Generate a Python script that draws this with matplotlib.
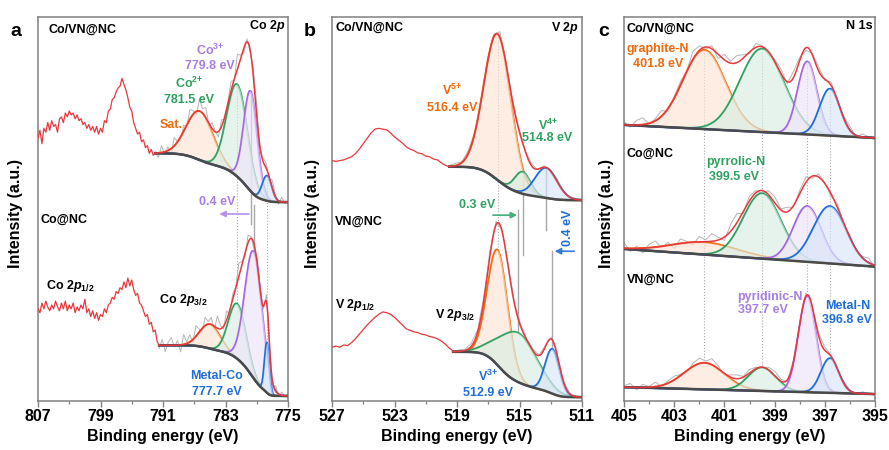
import math
import numpy as np
import matplotlib
matplotlib.use("Agg")
import matplotlib.pyplot as plt
import matplotlib.colors as mcolors
from matplotlib.ticker import FixedLocator

plt.rcParams['font.family'] = ['Liberation Sans', 'DejaVu Sans']
plt.rcParams['font.weight'] = 'bold'
plt.rcParams['mathtext.fontset'] = 'custom'
plt.rcParams['mathtext.rm'] = 'Liberation Sans:bold'
plt.rcParams['mathtext.it'] = 'Liberation Sans:italic:bold'
plt.rcParams['mathtext.bf'] = 'Liberation Sans:bold'
plt.rcParams['mathtext.default'] = 'rm'

RED = '#e8383d'
ORANGE = '#f06a0e'
GREEN = '#2ea160'
PURPLE = '#a368e0'
BLUE = '#1f6ed8'
BGLINE = '#4a4a4a'
RAW = '#b5b5b5'
GUIDE = '#a8a8a8'
SPINE = '#808080'

# ---------------- panel a : Co 2p ----------------
co_ticks = [807, 799, 791, 783, 775]
co_minor = [803, 795, 787, 779]
# raw (unfitted) part, 807 -> 792 eV, Co/VN@NC
co_left_vnco = [68.5, 70.5, 67.0, 71.0, 70.0, 72.5, 70.5, 73.0, 71.5, 72.0,
                70.0, 73.5, 74.0, 72.5, 75.0, 74.0, 75.5, 74.5, 75.0, 73.5,
                74.5, 73.0, 73.5, 72.0, 72.5, 71.0, 72.0, 70.5, 71.5, 70.0,
                71.5, 69.5, 71.0, 70.0, 73.0, 72.5, 75.5, 76.0, 78.5, 79.0,
                80.5, 81.5, 82.0, 84.0, 82.5, 81.0, 79.0, 76.5, 75.5, 72.5,
                71.0, 69.5, 70.0, 67.5, 68.0, 66.0, 66.5, 64.5, 65.5, 64.0,
                64.5]
# raw part, 807 -> 791.5 eV, Co@NC
co_left_conc = [24.0, 23.0, 25.5, 24.0, 26.0, 24.5, 23.5, 25.0, 24.0, 26.0,
                24.5, 23.5, 25.5, 24.0, 26.0, 23.5, 25.0, 24.0, 25.5, 23.0,
                24.5, 23.5, 25.0, 24.0, 26.5, 23.0, 24.0, 22.0, 23.5, 21.5,
                23.0, 21.0, 22.5, 22.0, 24.0, 23.0, 25.0, 25.5, 27.0, 26.5,
                28.5, 28.0, 29.5, 29.0, 31.0, 29.5, 32.0, 30.0, 31.5, 29.0,
                27.5, 28.0, 25.5, 25.0, 23.5, 22.0, 22.5, 20.0, 20.5, 18.0,
                18.5, 15.5, 14.5]
co_centers_vnco = [786.3, 781.5, 779.8, 777.7]
co_heights_vnco = [12.7, 24.0, 26.0, 6.5]
co_sigmas_vnco = [1.7, 1.3, 0.85, 0.6]
co_bg_vnco = (51.8, 64.5)
co_res_vnco = [0.5, -1.2, 1.8, -0.6, 1.0, -1.5, 2.2, 0.3, -1.0, 1.6, -0.4,
               2.5, 1.0, -0.8, 3.0, 1.2, 2.6, -0.5, 1.5, 0.2, -1.4, 1.8,
               -0.9, 0.6, 2.4, -0.3, 4.0, 1.1, -1.2, 0.8, -0.6, 1.9, 2.8,
               -1.0, 0.7, 1.4, -0.8, 2.0, 0.5, -0.9, 1.2, -0.4, 0.3]
co_centers_conc = [785.0, 781.5, 779.4, 777.7]
co_heights_conc = [6.3, 14.3, 33.0, 13.0]
co_sigmas_conc = [1.3, 1.1, 1.1, 0.3]
co_bg_conc = (1.3, 14.5)
co_res_conc = [-0.8, 1.5, -1.6, 0.9, 2.0, -0.5, 1.2, -1.8, 2.6, 0.4, 1.9,
               -0.7, 2.8, 1.0, -1.2, 2.2, 0.6, 1.8, -0.9, 3.2, 0.8, -0.6,
               2.4, -1.1, 1.4, 0.3, 3.6, 1.0, -0.8, 2.0, 0.4, -1.3, 1.6,
               0.6, -0.7, 1.8, 0.2, -1.0, 1.4, -0.5, 0.9, -0.3, 0.5]

# ---------------- panel b : V 2p ----------------
v_ticks = [527, 523, 519, 515, 511]
v_minor = [525, 521, 517, 513]
v_left_vnco = [62.6, 62.4, 62.6, 62.8, 63.2, 63.6, 64.4, 65.6, 67.0, 68.4,
               69.8, 70.8, 71.0, 70.8, 70.6, 69.8, 68.8, 68.0, 67.2, 66.2,
               65.6, 65.2, 64.6, 64.4, 63.8, 63.6, 63.0, 62.8, 62.0, 61.4,
               61.0]
v_left_vn = [14.0, 14.3, 14.0, 14.6, 14.4, 15.2, 16.2, 17.4, 18.6, 19.8,
             20.8, 21.8, 22.6, 23.2, 23.0, 22.6, 21.8, 20.8, 19.8, 18.8,
             18.4, 18.0, 17.8, 17.4, 17.2, 16.8, 16.6, 16.2, 15.6, 14.8,
             13.8, 13.0]
v_centers_vnco = [516.4, 514.8, 513.3]
v_heights_vnco = [38.0, 5.7, 7.8]
v_sigmas_vnco = [0.86, 0.5, 0.7]
v_bg_vnco = (52.3, 61.0)
v_res_vnco = [0.3, 0.6, 0.2, 0.8, 0.5, 0.9, 1.2, 0.8, 1.5, 0.9, 0.4,
              0.6, 0.2, 0.5, -0.2, 0.4, 0.3, 0.6, 0.2, 0.1, 0.3, 0.2]
v_centers_vn = [516.4, 515.1, 512.9]
v_heights_vn = [30.0, 12.8, 11.6]
v_sigmas_vn = [0.64, 1.2, 0.45]
v_bg_vn = (1.0, 12.8)
v_res_vn = [0.2, 0.4, 0.3, 0.8, 0.6, 1.0, 1.4, 0.9, 0.5, 0.7, 0.3,
            0.6, 0.2, 0.4, 0.1, 0.3, 0.5, 0.2, 0.1, 0.2, 0.1, 0.1]

# ---------------- panel c : N 1s ----------------
n_ticks = [405, 403, 401, 399, 397, 395]
n_minor = [404, 402, 400, 398, 396]
n_centers = [401.8, 399.5, 397.7, 396.8]
n_heights_vnco = [20.6, 21.7, 19.0, 12.2]
n_sigmas_vnco = [0.85, 0.88, 0.38, 0.4]
n_bg_vnco = (68.5, 71.9)
n_res_vnco = [0.8, -0.5, 1.2, 1.8, -0.3, 0.6, 1.5, -0.8, 0.4, 1.0, 0.2,
              2.0, 1.2, -0.6, 0.8, -1.2, 1.4, 0.5, 1.8, 0.9, -0.4, 1.0,
              0.3, -0.9, 0.6, 1.2, -0.5, 1.6, 0.8, -0.7, 0.4, 1.1, -0.3,
              0.9, -0.6, 0.5, 1.0, -0.4, 0.8, 0.2, -0.5]
n_heights_conc = [3.2, 17.0, 14.5, 14.9]
n_sigmas_conc = [1.3, 0.75, 0.55, 0.65]
n_bg_conc = (35.0, 39.6)
n_res_conc = [1.5, -0.8, 0.6, -1.2, 0.9, 1.6, -0.4, 0.8, -1.0, 1.2, 0.3,
              -0.6, 1.4, 0.5, 2.0, 0.8, -0.9, 1.8, 2.4, -0.5, 1.2, 0.6,
              -0.8, 1.0, 1.6, 0.3, 1.2, -0.4, 0.9, 1.4, -0.6, 0.8, 0.2,
              -0.7, 1.0, -0.3, 0.6, -0.5, 0.4, 1.2, -0.8]
n_heights_vn = [6.9, 6.1, 25.0, 9.0]
n_sigmas_vn = [0.8, 0.55, 0.35, 0.35]
n_bg_vn = (1.8, 3.6)
n_res_vn = [0.4, 1.0, -0.6, 0.8, 0.2, 1.2, -0.3, 0.6, 1.0, 0.3, -0.4,
            0.8, 1.4, 0.5, 1.6, 0.8, -0.5, 0.6, 1.0, 0.2, 0.9, 0.4, -0.3,
            0.7, 1.2, 0.5, -0.4, 0.6, 0.3, 0.8, -0.2, 0.5, 0.9, 0.2, -0.4,
            0.6, 0.2, -0.3, 0.5, 0.1, -0.2]


def gauss(e, c, h, s):
    return h * np.exp(-0.5 * ((e - c) / s) ** 2)


def background(spec, e):
    """Shirley-type step (or straight line) between the two read levels."""
    e = np.asarray(e, dtype=float)
    lo, hi = spec['bg']
    e_hi, e_lo = spec['range']
    if spec.get('linear'):
        return lo + (hi - lo) * (e - e_lo) / (e_hi - e_lo)
    erf = np.vectorize(math.erf)
    area = np.zeros_like(e)
    total = 0.0
    for c, h, s in zip(spec['centers'], spec['heights'], spec['sigmas']):
        area += h * s * (1 + erf((e - c) / (s * math.sqrt(2))))
        total += 2 * h * s
    return lo + (hi - lo) * area / total


def peak_top(spec, i):
    c = spec['centers'][i]
    return float(background(spec, [c])[0]) + spec['heights'][i]


def tint(color, amount=0.82):
    r, g, b = mcolors.to_rgb(color)
    return (r + (1 - r) * amount, g + (1 - g) * amount, b + (1 - b) * amount)


def draw_fit(ax, spec):
    e_hi, e_lo = spec['range']
    e = np.linspace(e_lo, e_hi, 600)
    bg = background(spec, e)

    er = np.linspace(e_hi, e_lo, len(spec['res']))
    model_r = background(spec, er)
    for c, h, s in zip(spec['centers'], spec['heights'], spec['sigmas']):
        model_r = model_r + gauss(er, c, h, s)
    ax.plot(er, model_r + np.array(spec['res']), color=RAW, lw=0.7, zorder=1)

    total = bg.copy()
    for i, (c, h, s) in enumerate(zip(spec['centers'], spec['heights'],
                                      spec['sigmas'])):
        comp = gauss(e, c, h, s)
        total = total + comp
        col = spec['colors'][i]
        ax.plot(e, bg + comp, color=col, lw=1.5, zorder=2 + 2 * i)
        ax.fill_between(e, bg, bg + comp, color=tint(col), alpha=0.65,
                        lw=0, zorder=3 + 2 * i)
    ax.plot(e, bg, color=BGLINE, lw=1.8, zorder=12)
    ax.plot(e, total, color=RED, lw=1.1, zorder=13)


def draw_left(ax, values, e_hi, e_lo):
    e = np.linspace(e_hi, e_lo, len(values))
    ax.plot(e, values, color=RED, lw=0.9, zorder=13)


def style_axis(ax, ticks, minor):
    ax.set_xlim(ticks[0], ticks[-1])
    ax.set_ylim(0, 100)
    ax.set_yticks([])
    ax.xaxis.set_major_locator(FixedLocator(ticks))
    ax.xaxis.set_minor_locator(FixedLocator(minor))
    ax.tick_params(axis='x', which='major', direction='out', length=4,
                   width=1, color=SPINE, labelsize=11.5, pad=2)
    ax.tick_params(axis='x', which='minor', direction='out', length=2.5,
                   width=0.9, color=SPINE)
    for sp in ax.spines.values():
        sp.set_color(SPINE)
        sp.set_linewidth(1.1)
    ax.set_xlabel('Binding energy (eV)', fontsize=11.5, fontweight='bold',
                  labelpad=3)


def guide(ax, e, y0, y1, dotted=True):
    ax.plot([e, e], [y0, y1], color=GUIDE, lw=0.8 if dotted else 1.0,
            ls=':' if dotted else '-', zorder=0.5)


def arrow(ax, x0, x1, y, color):
    ax.annotate('', xy=(x1, y), xytext=(x0, y),
                arrowprops=dict(arrowstyle='-|>', color=color, lw=1.2,
                                mutation_scale=9, shrinkA=0, shrinkB=0))


W, H = 889, 450
fig = plt.figure(figsize=(W / 100, H / 100), dpi=100)


def add_axes(left, right, top=17, bottom=401):
    return fig.add_axes([left / W, 1 - bottom / H, (right - left) / W,
                         (bottom - top) / H])


ax_a = add_axes(38, 288)
ax_b = add_axes(332, 582)
ax_c = add_axes(624, 875)

for x, letter in [(16, 'a'), (310, 'b'), (604, 'c')]:
    fig.text(x / W, 1 - 31 / H, letter, fontsize=14, fontweight='bold',
             ha='center', va='center')
for x in [16, 312, 607]:
    fig.text(x / W, 1 - 214 / H, 'Intensity (a.u.)', rotation=90,
             fontsize=11.5, fontweight='bold', ha='center', va='center')

LBL = 9
LPURPLE = '#a77ee2'

# ---- panel a ----
co_vnco = dict(centers=co_centers_vnco, heights=co_heights_vnco,
               sigmas=co_sigmas_vnco, bg=co_bg_vnco, range=(792, 775),
               res=co_res_vnco, colors=[ORANGE, GREEN, PURPLE, BLUE])
co_conc = dict(centers=co_centers_conc, heights=co_heights_conc,
               sigmas=co_sigmas_conc, bg=co_bg_conc, range=(791.5, 775),
               res=co_res_conc, colors=[ORANGE, GREEN, PURPLE, BLUE])
style_axis(ax_a, co_ticks, co_minor)
draw_left(ax_a, co_left_vnco, 807, 792)
draw_left(ax_a, co_left_conc, 807, 791.5)
draw_fit(ax_a, co_vnco)
draw_fit(ax_a, co_conc)
guide(ax_a, 781.5, peak_top(co_vnco, 1), peak_top(co_conc, 1))
guide(ax_a, 777.7, peak_top(co_vnco, 3), peak_top(co_conc, 3))
guide(ax_a, 779.8, peak_top(co_vnco, 2), 46, dotted=False)
guide(ax_a, 779.4, 51, peak_top(co_conc, 2), dotted=False)
arrow(ax_a, 780.0, 783.8, 48.7, '#b592e6')

ax_a.text(805.6, 96.6, 'Co/VN@NC', fontsize=LBL, ha='left', va='center')
ax_a.text(775.3, 97.6, r'Co 2$\mathit{p}$', fontsize=LBL, ha='right', va='center')
ax_a.text(785.0, 91.4, r'Co$^{3{+}}$', fontsize=LBL, color=LPURPLE, ha='center', va='center')
ax_a.text(785.0, 87.2, '779.8 eV', fontsize=LBL, color=LPURPLE, ha='center', va='center')
ax_a.text(787.7, 82.8, r'Co$^{2{+}}$', fontsize=LBL, color=GREEN, ha='center', va='center')
ax_a.text(787.7, 78.4, '781.5 eV', fontsize=LBL, color=GREEN, ha='center', va='center')
ax_a.text(790.0, 71.9, 'Sat.', fontsize=LBL, color=ORANGE, ha='center', va='center')
ax_a.text(784.1, 51.8, '0.4 eV', fontsize=LBL, color=LPURPLE, ha='center', va='center')
ax_a.text(806.7, 47.1, 'Co@NC', fontsize=LBL, ha='left', va='center')
ax_a.text(806.0, 29.9, r'Co 2$\mathit{p}_{1/2}$', fontsize=LBL, ha='left', va='center')
ax_a.text(791.5, 26.3, r'Co 2$\mathit{p}_{3/2}$', fontsize=LBL, ha='left', va='center')
ax_a.text(784.1, 6.5, 'Metal-Co', fontsize=LBL, color=BLUE, ha='center', va='center')
ax_a.text(784.1, 2.3, '777.7 eV', fontsize=LBL, color=BLUE, ha='center', va='center')

# ---- panel b ----
v_vnco = dict(centers=v_centers_vnco, heights=v_heights_vnco,
              sigmas=v_sigmas_vnco, bg=v_bg_vnco, range=(519.5, 511),
              res=v_res_vnco, colors=[ORANGE, GREEN, BLUE])
v_vn = dict(centers=v_centers_vn, heights=v_heights_vn,
            sigmas=v_sigmas_vn, bg=v_bg_vn, range=(519.25, 511),
            res=v_res_vn, colors=[ORANGE, GREEN, BLUE])
style_axis(ax_b, v_ticks, v_minor)
draw_left(ax_b, v_left_vnco, 527, 519.5)
draw_left(ax_b, v_left_vn, 527, 519.25)
draw_fit(ax_b, v_vnco)
draw_fit(ax_b, v_vn)
guide(ax_b, 516.4, peak_top(v_vnco, 0), peak_top(v_vn, 0))
guide(ax_b, 514.8, peak_top(v_vnco, 1), 38, dotted=False)
guide(ax_b, 515.1, 49.7, peak_top(v_vn, 1), dotted=False)
guide(ax_b, 513.3, peak_top(v_vnco, 2), 44.5, dotted=False)
guide(ax_b, 512.9, 39, peak_top(v_vn, 2), dotted=False)
arrow(ax_b, 516.7, 515.15, 48.4, '#45b07a')
arrow(ax_b, 511.5, 512.75, 39.0, '#2f7be0')

ax_b.text(526.8, 97.2, 'Co/VN@NC', fontsize=LBL, ha='left', va='center')
ax_b.text(511.2, 97.2, r'V 2$\mathit{p}$', fontsize=LBL, ha='right', va='center')
ax_b.text(519.3, 81.0, r'V$^{5{+}}$', fontsize=LBL, color=ORANGE, ha='center', va='center')
ax_b.text(519.3, 76.3, '516.4 eV', fontsize=LBL, color=ORANGE, ha='center', va='center')
ax_b.text(513.2, 71.9, r'V$^{4{+}}$', fontsize=LBL, color=GREEN, ha='center', va='center')
ax_b.text(513.2, 68.6, '514.8 eV', fontsize=LBL, color=GREEN, ha='center', va='center')
ax_b.text(517.7, 51.0, '0.3 eV', fontsize=LBL, color=GREEN, ha='center', va='center')
ax_b.text(511.9, 45.0, '0.4 eV', fontsize=LBL, color=BLUE, ha='center', va='center', rotation=90)
ax_b.text(526.8, 46.6, 'VN@NC', fontsize=LBL, ha='left', va='center')
ax_b.text(526.8, 25.0, r'V 2$\mathit{p}_{1/2}$', fontsize=LBL, ha='left', va='center')
ax_b.text(520.4, 22.4, r'V 2$\mathit{p}_{3/2}$', fontsize=LBL, ha='left', va='center')
ax_b.text(517.0, 6.3, r'V$^{3{+}}$', fontsize=LBL, color=BLUE, ha='center', va='center')
ax_b.text(517.0, 2.1, '512.9 eV', fontsize=LBL, color=BLUE, ha='center', va='center')

# ---- panel c ----
n_colors = [ORANGE, GREEN, PURPLE, BLUE]
n_vnco = dict(centers=n_centers, heights=n_heights_vnco, sigmas=n_sigmas_vnco,
              bg=n_bg_vnco, range=(405, 395), res=n_res_vnco,
              colors=n_colors, linear=True)
n_conc = dict(centers=n_centers, heights=n_heights_conc, sigmas=n_sigmas_conc,
              bg=n_bg_conc, range=(405, 395), res=n_res_conc,
              colors=n_colors, linear=True)
n_vn = dict(centers=n_centers, heights=n_heights_vn, sigmas=n_sigmas_vn,
            bg=n_bg_vn, range=(405, 395), res=n_res_vn,
            colors=n_colors, linear=True)
style_axis(ax_c, n_ticks, n_minor)
for spec in (n_vnco, n_conc, n_vn):
    draw_fit(ax_c, spec)
for i, c in enumerate(n_centers):
    guide(ax_c, c, peak_top(n_vnco, i), peak_top(n_vn, i))

ax_c.text(404.9, 96.9, 'Co/VN@NC', fontsize=LBL, ha='left', va='center')
ax_c.text(395.1, 97.6, 'N 1s', fontsize=LBL, ha='right', va='center')
ax_c.text(403.65, 91.6, 'graphite-N', fontsize=LBL, color=ORANGE, ha='center', va='center')
ax_c.text(403.65, 87.8, '401.8 eV', fontsize=LBL, color=ORANGE, ha='center', va='center')
ax_c.text(404.9, 64.3, 'Co@NC', fontsize=LBL, ha='left', va='center')
ax_c.text(400.55, 62.2, 'pyrrolic-N', fontsize=LBL, color=GREEN, ha='center', va='center')
ax_c.text(400.6, 58.3, '399.5 eV', fontsize=LBL, color=GREEN, ha='center', va='center')
ax_c.text(404.9, 31.5, 'VN@NC', fontsize=LBL, ha='left', va='center')
ax_c.text(399.2, 27.1, 'pyridinic-N', fontsize=LBL, color=LPURPLE, ha='center', va='center')
ax_c.text(399.45, 23.7, '397.7 eV', fontsize=LBL, color=LPURPLE, ha='center', va='center')
ax_c.text(396.1, 24.7, 'Metal-N', fontsize=LBL, color=BLUE, ha='center', va='center')
ax_c.text(396.1, 21.1, '396.8 eV', fontsize=LBL, color=BLUE, ha='center', va='center')

fig.savefig('out.png', dpi=100)
